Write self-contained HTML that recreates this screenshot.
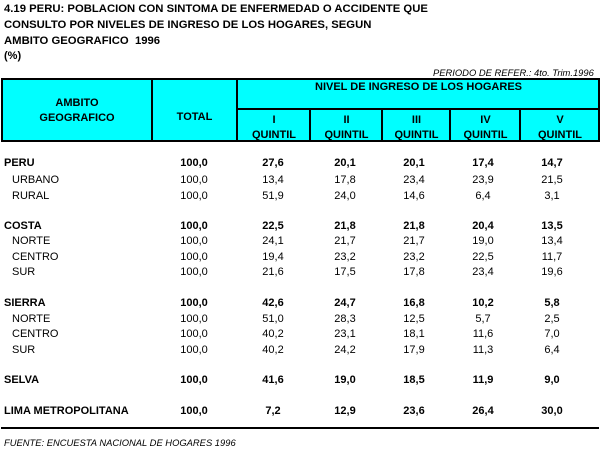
<!DOCTYPE html>
<html><head><meta charset="utf-8"><style>
body{margin:0;width:601px;height:453px;background:#fff;position:relative;overflow:hidden;font-family:"Liberation Sans",Arial,sans-serif;font-size:11px;color:#000}
div{position:absolute;white-space:nowrap}
.b{font-weight:bold}
.t{font-weight:bold;font-size:11.3px}
.c{text-align:center}
.r{text-align:right}
.ln{background:#000}
</style></head><body>
<div class="t" style="left:4px;top:3px">4.19 PERU: POBLACION CON SINTOMA DE ENFERMEDAD O ACCIDENTE QUE</div>
<div class="t" style="left:4px;top:19px">CONSULTO POR NIVELES DE INGRESO DE LOS HOGARES, SEGUN</div>
<div class="t" style="left:4px;top:35px">AMBITO GEOGRAFICO&nbsp; 1996</div>
<div class="b" style="left:4px;top:50px">(%)</div>
<div style="left:433px;top:67px;font-style:italic;font-size:9.4px">PERIODO DE REFER.: 4to. Trim.1996</div>

<div style="left:1px;top:78px;width:595px;height:60px;background:#00ffff;border:2px solid #000"></div>
<div class="ln" style="left:151px;top:78px;width:2px;height:62px"></div>
<div class="ln" style="left:236px;top:78px;width:2px;height:62px"></div>
<div class="ln" style="left:236px;top:108px;width:363px;height:2px"></div>
<div class="ln" style="left:309px;top:108px;width:2px;height:32px"></div>
<div class="ln" style="left:381px;top:108px;width:2px;height:32px"></div>
<div class="ln" style="left:449px;top:108px;width:2px;height:32px"></div>
<div class="ln" style="left:519px;top:108px;width:2px;height:32px"></div>

<div class="b c" style="left:2px;width:150px;top:96px;line-height:15px">AMBITO<br>GEOGRAFICO</div>
<div class="b c" style="left:152px;width:85px;top:111px">TOTAL</div>
<div class="b c" style="left:238px;width:361px;top:81px">NIVEL DE INGRESO DE LOS HOGARES</div>
<div class="b c" style="left:238px;width:72px;top:113px;line-height:15px">I<br>QUINTIL</div>
<div class="b c" style="left:311px;width:71px;top:113px;line-height:15px">II<br>QUINTIL</div>
<div class="b c" style="left:383px;width:67px;top:113px;line-height:15px">III<br>QUINTIL</div>
<div class="b c" style="left:451px;width:69px;top:113px;line-height:15px">IV<br>QUINTIL</div>
<div class="b c" style="left:521px;width:78px;top:113px;line-height:15px">V<br>QUINTIL</div>

<div id="rows"></div>
<div class="ln" style="left:1px;top:427px;width:598px;height:2px"></div>
<div style="left:4px;top:437px;font-style:italic;font-size:9.4px">FUENTE: ENCUESTA NACIONAL DE HOGARES 1996</div>
<script>
var R=[[157,1,"PERU","100,0","27,6","20,1","20,1","17,4","14,7"],
[174,0,"URBANO","100,0","13,4","17,8","23,4","23,9","21,5"],
[190,0,"RURAL","100,0","51,9","24,0","14,6","6,4","3,1"],
[220,1,"COSTA","100,0","22,5","21,8","21,8","20,4","13,5"],
[235,0,"NORTE","100,0","24,1","21,7","21,7","19,0","13,4"],
[251,0,"CENTRO","100,0","19,4","23,2","23,2","22,5","11,7"],
[266,0,"SUR","100,0","21,6","17,5","17,8","23,4","19,6"],
[297,1,"SIERRA","100,0","42,6","24,7","16,8","10,2","5,8"],
[313,0,"NORTE","100,0","51,0","28,3","12,5","5,7","2,5"],
[328,0,"CENTRO","100,0","40,2","23,1","18,1","11,6","7,0"],
[344,0,"SUR","100,0","40,2","24,2","17,9","11,3","6,4"],
[374,1,"SELVA","100,0","41,6","19,0","18,5","11,9","9,0"],
[405,1,"LIMA METROPOLITANA","100,0","7,2","12,9","23,6","26,4","30,0"]];
var E=[194,273,345,414,483,552],h="";
R.forEach(function(r){var b=r[1]?' b':'';
h+='<div class="'+b+'" style="left:'+(r[1]?4:12)+'px;top:'+r[0]+'px">'+r[2]+'</div>';
for(var i=0;i<6;i++)h+='<div class="c'+b+'" style="left:'+(E[i]-30)+'px;width:60px;top:'+r[0]+'px">'+r[3+i]+'</div>';});
document.getElementById('rows').outerHTML=h;
</script>
</body></html>
